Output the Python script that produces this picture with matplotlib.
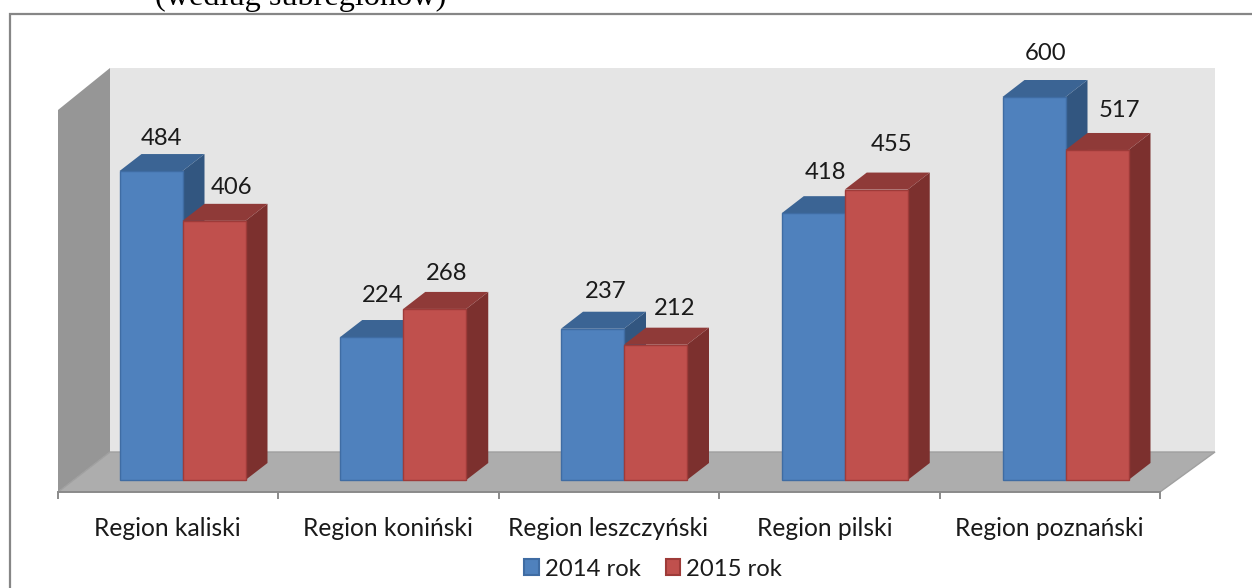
import matplotlib
matplotlib.use("Agg")
import matplotlib.pyplot as plt
from matplotlib.patches import Rectangle, Patch

plt.rcParams['font.family'] = ['Lato', 'DejaVu Sans']

categories = ["Region kaliski", "Region koniński", "Region leszczyński", "Region pilski", "Region poznański"]
values_2014 = [484, 224, 237, 418, 600]
values_2015 = [406, 268, 212, 455, 517]
series_names = ["2014 rok", "2015 rok"]
# label placement relative to each bar's centre and top, in pixels
label_off_2014 = [(10, 33), (11, 42), (13, 37), (12, 41), (12, 43)]
label_off_2015 = [(18, 33), (12, 35), (19, 36), (15, 45), (22, 39)]

W, H = 1252, 588
AX_BOTTOM = 492            # pixel row of the category axis
BASE = 480                 # pixel row of value 0
PXV = 383 / 600            # pixels per value unit
STEP = 220.75              # pixels per category
X0 = 182.5                 # pixel column of first category's centre
BAR = 63                   # bar width in pixels
DX, DY = 22, 17            # bar depth in pixels
FS = 17.2
FS_CAT = 17.7

fig = plt.figure(figsize=(W / 100, H / 100), dpi=100, facecolor="white")
ax = fig.add_axes([0, (H - AX_BOTTOM) / H, 1, AX_BOTTOM / H])
ax.set_xlim(-X0 / STEP, (W - X0) / STEP)
ax.set_ylim(-(AX_BOTTOM - BASE) / PXV, BASE / PXV)
ax.patch.set_alpha(0)

def px(x):
    return (x - X0) / STEP
def py(y):
    return (BASE - y) / PXV
def poly(points, **kw):
    ax.fill([px(p[0]) for p in points], [py(p[1]) for p in points], **kw)

# walls and floor
poly([(110, 68), (1215, 68), (1215, 452), (110, 452)], color="#E5E5E5", lw=0, zorder=1)
poly([(58, 110), (110, 68), (110, 452), (58, 492)], color="#969696", lw=0, zorder=1)
poly([(58, 492), (110, 452), (1215, 452), (1160, 492)], facecolor="#ADADAD", edgecolor="#A0A0A0", lw=1, zorder=2)

# bars
w = BAR / STEP
dx, dy = DX / STEP, DY / PXV
styles = [("#4F81BD", "#3B6494", "#325680", "#3F6CA3"), ("#C0504D", "#8F3A38", "#7C302E", "#9E3B39")]
z = 3
for i in range(len(categories)):
    for s, (vals, offs) in enumerate(((values_2014, label_off_2014), (values_2015, label_off_2015))):
        v = vals[i]
        left = i - w + s * w
        front, top, side, edge = styles[s]
        ax.fill([left + w, left + w + dx, left + w + dx, left + w], [0, dy, v + dy, v], color=side, lw=0, zorder=z)
        ax.fill([left, left + w, left + w + dx, left + dx], [v, v, v + dy, v + dy], color=top, lw=0, zorder=z)
        ax.bar(left, v, width=w, align="edge", color=front, edgecolor=edge, linewidth=1.0, zorder=z + 1)
        ax.annotate(str(v), (left + w / 2, v), xytext=(offs[i][0] * 0.72, offs[i][1] * 0.72),
                    textcoords="offset points", ha="center", va="center",
                    fontsize=FS, color="#1A1A1A", zorder=50)
        z += 2

# category axis
for name in ("top", "left", "right"):
    ax.spines[name].set_visible(False)
ax.spines["bottom"].set_color("#8A8A8A")
ax.spines["bottom"].set_linewidth(1.4)
ax.spines["bottom"].set_bounds(px(58), px(1160))
ax.set_yticks([])
ax.set_xticks([px(58 + 220.4 * i) for i in range(len(categories) + 1)])
ax.set_xticklabels([])
ax.tick_params(axis="x", which="major", length=5, width=1.4, color="#8A8A8A")
ax.set_xticks([px(c) for c in (167.5, 388, 608, 825, 1049.5)], minor=True)
ax.set_xticklabels(categories, minor=True, fontsize=FS_CAT, color="#1A1A1A")
ax.tick_params(axis="x", which="minor", length=0, pad=18)

# legend
handles = [Patch(facecolor=styles[0][0], edgecolor=styles[0][3], lw=1.5, label=series_names[0]),
           Patch(facecolor=styles[1][0], edgecolor=styles[1][3], lw=1.5, label=series_names[1])]
fig.legend(handles=handles, loc="center", bbox_to_anchor=(653 / W, 1 - 569 / H), ncol=2, frameon=False,
           fontsize=FS, labelcolor="#1A1A1A", handlelength=0.62, handleheight=0.62, handletextpad=0.25,
           columnspacing=1.05, borderpad=0, borderaxespad=0)

# chart frame: only its top and left edges fall inside the crop
fig.add_artist(Rectangle((9.5 / W, -0.05), 1.05, 1.05 - 14.5 / H, transform=fig.transFigure,
                         fill=False, edgecolor="#868686", linewidth=1.6))

# cropped caption line above the chart
fig.text(155 / W, 1 - 5 / H, "(według subregionów)", family="Liberation Serif", fontsize=23.2,
         color="black", ha="left", va="baseline")

fig.savefig("out.png", dpi=100)
